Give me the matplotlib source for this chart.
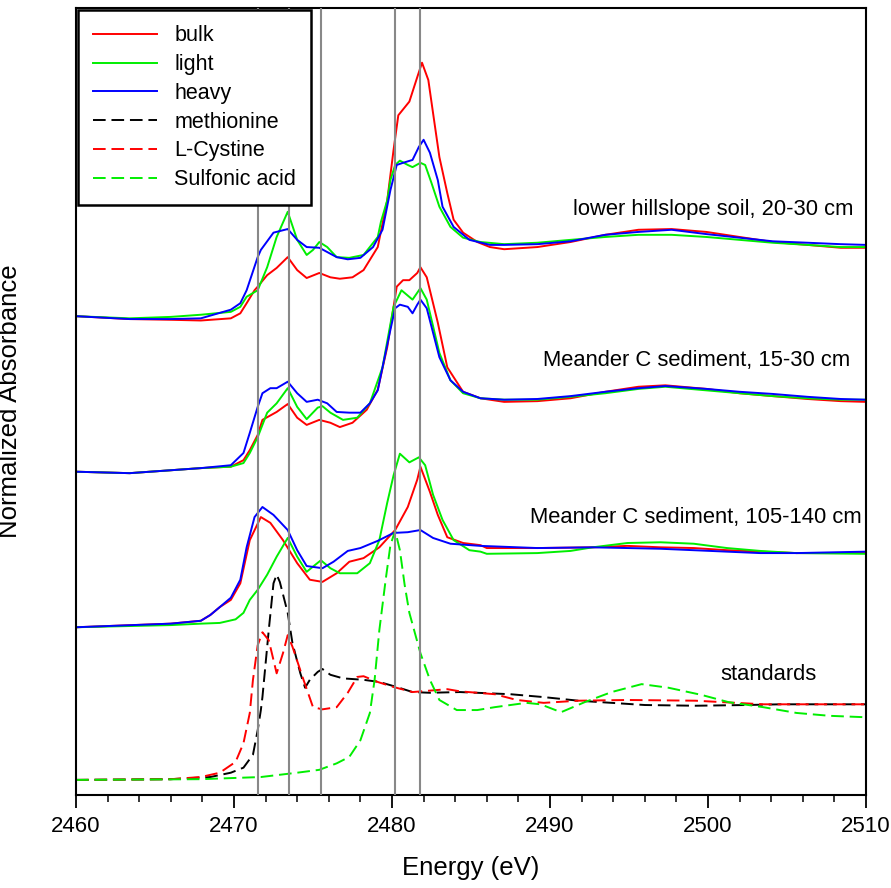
import matplotlib
matplotlib.use("Agg")
import matplotlib.pyplot as plt
from matplotlib import font_manager

# S K-edge XANES spectra, stacked (energy in eV, normalized absorbance + offset)
soil_bulk_e = [2460, 2463.4, 2466.0, 2467.9, 2469.8, 2470.4, 2470.8, 2471.3, 2471.5, 2472.1, 2472.7, 2473.4,
               2474.0, 2474.6, 2475.4, 2476.1, 2476.7, 2477.5, 2478.2, 2479.1, 2479.7, 2480.1, 2480.4, 2481.1,
               2481.6, 2481.9, 2482.3, 2482.6, 2483.0, 2483.5, 2483.9, 2484.5, 2485.4, 2486.2, 2487.1, 2489.2,
               2491.3, 2493.5, 2495.6, 2497.7, 2499.9, 2502.0, 2504.1, 2506.3, 2508.4, 2510]
soil_bulk_y = [6.65, 6.61, 6.60, 6.59, 6.62, 6.69, 6.83, 7.01, 7.06, 7.22, 7.32, 7.47,
               7.29, 7.18, 7.25, 7.19, 7.17, 7.19, 7.29, 7.61, 8.26, 8.96, 9.44, 9.63,
               9.97, 10.17, 9.93, 9.47, 8.86, 8.36, 7.99, 7.81, 7.68, 7.61, 7.58, 7.61,
               7.68, 7.78, 7.85, 7.86, 7.82, 7.75, 7.68, 7.64, 7.60, 7.60]

soil_light_e = [2460, 2463.4, 2466.0, 2467.9, 2469.8, 2470.4, 2470.8, 2471.5, 2472.1, 2472.7, 2473.4, 2474.0,
                2474.6, 2475.0, 2475.4, 2475.9, 2476.5, 2477.3, 2478.2, 2479.1, 2479.3, 2479.7, 2479.9, 2480.2,
                2480.5, 2481.0, 2481.3, 2481.8, 2482.1, 2482.5, 2483.0, 2483.7, 2484.5, 2485.6, 2487.1, 2489.2,
                2491.3, 2493.5, 2495.6, 2497.7, 2499.9, 2502.0, 2504.1, 2506.3, 2508.4, 2510]
soil_light_y = [6.65, 6.62, 6.64, 6.67, 6.71, 6.78, 6.92, 7.01, 7.33, 7.75, 8.10, 7.71,
                7.50, 7.57, 7.68, 7.61, 7.47, 7.46, 7.50, 7.75, 7.96, 8.26, 8.54, 8.75,
                8.81, 8.75, 8.72, 8.78, 8.75, 8.50, 8.17, 7.89, 7.74, 7.68, 7.65, 7.67,
                7.71, 7.75, 7.78, 7.78, 7.75, 7.71, 7.67, 7.64, 7.61, 7.61]

soil_heavy_e = [2460, 2463.4, 2466.0, 2467.9, 2469.8, 2470.4, 2470.8, 2471.5, 2471.7, 2472.5, 2473.4, 2474.0,
                2474.6, 2475.4, 2476.5, 2477.2, 2478.0, 2478.8, 2479.4, 2479.9, 2480.3, 2480.7, 2481.3, 2481.7,
                2482.0, 2482.4, 2482.9, 2483.2, 2483.9, 2484.9, 2486.2, 2487.1, 2489.2, 2491.3, 2493.5, 2495.6,
                2497.7, 2499.9, 2502.0, 2504.1, 2506.3, 2508.4, 2510]
soil_heavy_y = [6.65, 6.61, 6.61, 6.62, 6.74, 6.83, 7.01, 7.47, 7.57, 7.81, 7.86, 7.71,
                7.61, 7.60, 7.47, 7.44, 7.46, 7.61, 7.85, 8.40, 8.75, 8.78, 8.82, 9.00,
                9.10, 8.92, 8.54, 8.17, 7.89, 7.71, 7.64, 7.64, 7.65, 7.69, 7.78, 7.82,
                7.85, 7.79, 7.74, 7.69, 7.67, 7.65, 7.64]

sed1_bulk_e = [2460, 2463.4, 2467.9, 2469.8, 2470.6, 2471.0, 2471.5, 2471.8, 2472.7, 2473.4, 2474.0, 2474.6,
               2475.4, 2476.1, 2476.7, 2477.5, 2478.4, 2479.1, 2479.7, 2480.3, 2480.7, 2481.1, 2481.6, 2481.8,
               2482.2, 2482.9, 2483.5, 2484.5, 2485.6, 2487.1, 2489.2, 2491.3, 2493.5, 2495.6, 2497.3, 2499.9,
               2502.0, 2504.1, 2506.3, 2508.4, 2510]
sed1_bulk_y = [4.49, 4.47, 4.54, 4.56, 4.65, 4.79, 5.00, 5.21, 5.32, 5.43, 5.24, 5.14,
               5.21, 5.17, 5.11, 5.17, 5.35, 5.63, 6.22, 7.06, 7.15, 7.15, 7.25, 7.33,
               7.19, 6.56, 5.94, 5.60, 5.51, 5.46, 5.47, 5.51, 5.60, 5.67, 5.69, 5.64,
               5.58, 5.54, 5.50, 5.47, 5.46]

sed1_light_e = [2460, 2463.4, 2467.9, 2469.8, 2470.6, 2471.0, 2471.5, 2472.1, 2472.7, 2473.4, 2474.0, 2474.6,
                2475.3, 2475.6, 2476.1, 2476.9, 2477.8, 2478.6, 2479.4, 2480.1, 2480.6, 2481.3, 2481.8, 2482.2,
                2483.0, 2483.7, 2484.5, 2485.6, 2487.1, 2489.2, 2491.3, 2493.5, 2495.6, 2497.3, 2499.9, 2502.0,
                2504.1, 2506.3, 2508.4, 2510]
sed1_light_y = [4.49, 4.47, 4.54, 4.56, 4.61, 4.75, 4.97, 5.31, 5.44, 5.65, 5.39, 5.22,
                5.38, 5.40, 5.31, 5.21, 5.24, 5.44, 5.94, 6.78, 7.01, 6.88, 7.04, 6.88,
                6.14, 5.76, 5.58, 5.51, 5.49, 5.49, 5.53, 5.58, 5.64, 5.67, 5.62, 5.58,
                5.54, 5.51, 5.49, 5.49]

sed1_heavy_e = [2460, 2463.4, 2467.9, 2469.8, 2470.6, 2471.0, 2471.5, 2471.8, 2472.3, 2472.7, 2473.4, 2474.0,
                2474.6, 2475.3, 2475.9, 2476.5, 2477.3, 2478.0, 2478.6, 2479.1, 2479.4, 2479.9, 2480.2, 2480.5,
                2481.0, 2481.3, 2481.6, 2481.8, 2482.2, 2482.6, 2483.0, 2483.7, 2484.5, 2485.6, 2487.1, 2489.2,
                2491.3, 2493.5, 2495.6, 2497.3, 2499.9, 2502.0, 2504.1, 2506.3, 2508.4, 2510]
sed1_heavy_y = [4.49, 4.47, 4.54, 4.58, 4.75, 5.03, 5.39, 5.58, 5.65, 5.65, 5.74, 5.58,
                5.46, 5.49, 5.44, 5.32, 5.31, 5.31, 5.44, 5.62, 5.94, 6.46, 6.76, 6.81,
                6.78, 6.69, 6.81, 6.88, 6.76, 6.42, 6.08, 5.76, 5.60, 5.51, 5.49, 5.50,
                5.54, 5.60, 5.65, 5.68, 5.64, 5.60, 5.57, 5.53, 5.50, 5.49]

sed2_bulk_e = [2460, 2466.0, 2467.9, 2468.5, 2469.1, 2469.8, 2470.4, 2471.0, 2471.7, 2472.3, 2473.1, 2474.0,
               2474.8, 2475.6, 2476.5, 2477.3, 2478.2, 2479.2, 2480.2, 2481.0, 2481.6, 2481.8, 2482.4, 2482.9,
               2483.5, 2484.5, 2485.6, 2486.0, 2489.2, 2492.7, 2494.9, 2497.0, 2499.1, 2501.2, 2503.3, 2505.6,
               2510]
sed2_bulk_y = [2.33, 2.38, 2.42, 2.50, 2.61, 2.71, 2.94, 3.54, 3.86, 3.78, 3.54, 3.22,
               2.99, 2.96, 3.08, 3.24, 3.29, 3.44, 3.68, 4.00, 4.38, 4.56, 4.21, 3.89,
               3.58, 3.50, 3.47, 3.43, 3.43, 3.44, 3.46, 3.44, 3.43, 3.40, 3.38, 3.36,
               3.36]

sed2_light_e = [2460, 2466.0, 2467.9, 2469.1, 2470.1, 2470.6, 2471.0, 2471.5, 2472.1, 2472.7, 2473.4, 2474.0,
                2474.6, 2475.1, 2475.5, 2476.1, 2476.7, 2477.8, 2478.6, 2479.2, 2479.7, 2480.1, 2480.5, 2481.1,
                2481.7, 2482.1, 2482.6, 2483.2, 2483.9, 2484.9, 2485.6, 2486.0, 2489.2, 2491.3, 2492.7, 2494.9,
                2497.0, 2499.1, 2501.2, 2503.3, 2505.6, 2510]
sed2_light_y = [2.33, 2.36, 2.38, 2.39, 2.44, 2.53, 2.71, 2.85, 3.06, 3.31, 3.57, 3.31,
                3.10, 3.19, 3.26, 3.15, 3.08, 3.08, 3.22, 3.54, 4.06, 4.44, 4.74, 4.62,
                4.69, 4.58, 4.17, 3.82, 3.54, 3.40, 3.38, 3.35, 3.36, 3.39, 3.44, 3.50,
                3.51, 3.49, 3.43, 3.39, 3.36, 3.35]

sed2_heavy_e = [2460, 2466.0, 2467.9, 2468.5, 2469.1, 2469.8, 2470.4, 2470.8, 2471.3, 2471.8, 2472.5, 2473.4,
                2474.0, 2474.6, 2475.6, 2476.3, 2477.2, 2478.0, 2479.1, 2480.1, 2481.0, 2481.8, 2482.6, 2483.7,
                2485.6, 2489.2, 2492.7, 2494.9, 2497.0, 2499.1, 2501.2, 2503.3, 2505.6, 2510]
sed2_heavy_y = [2.33, 2.38, 2.42, 2.50, 2.61, 2.74, 2.99, 3.44, 3.86, 4.00, 3.89, 3.68,
                3.40, 3.18, 3.15, 3.24, 3.39, 3.43, 3.53, 3.64, 3.65, 3.68, 3.57, 3.49,
                3.46, 3.43, 3.44, 3.43, 3.42, 3.40, 3.38, 3.36, 3.36, 3.38]

# reference standards
meth_e = [2460, 2466.0, 2468.5, 2469.8, 2470.6, 2471.2, 2471.5, 2471.7, 2471.8, 2472.2, 2472.5, 2472.7,
          2472.9, 2473.4, 2473.7, 2474.2, 2474.5, 2474.8, 2475.3, 2475.6, 2476.1, 2476.9, 2478.2, 2479.2,
          2480.3, 2481.3, 2482.4, 2484.3, 2487.5, 2489.6, 2491.8, 2493.9, 2496.0, 2499.2, 2502.4, 2504.6,
          2510]
meth_y = [0.21, 0.22, 0.25, 0.31, 0.38, 0.56, 0.90, 1.18, 1.36, 2.29, 2.94, 3.06,
          2.96, 2.53, 2.11, 1.69, 1.49, 1.60, 1.71, 1.75, 1.67, 1.62, 1.60, 1.57,
          1.50, 1.43, 1.42, 1.43, 1.40, 1.36, 1.31, 1.28, 1.25, 1.24, 1.25, 1.26,
          1.26]

cys_e = [2460, 2466.0, 2467.9, 2469.1, 2470.1, 2470.6, 2471.0, 2471.2, 2471.5, 2471.8, 2472.2, 2472.7,
         2473.1, 2473.4, 2473.7, 2474.4, 2475.0, 2475.6, 2476.5, 2477.2, 2477.8, 2478.2, 2479.1, 2480.1,
         2481.3, 2483.5, 2484.3, 2486.5, 2487.9, 2489.6, 2491.8, 2494.9, 2499.2, 2503.5, 2510]
cys_y = [0.21, 0.22, 0.25, 0.31, 0.46, 0.72, 1.14, 1.60, 2.08, 2.26, 2.15, 1.69,
         1.97, 2.22, 2.06, 1.60, 1.22, 1.19, 1.22, 1.42, 1.64, 1.65, 1.57, 1.50,
         1.43, 1.47, 1.44, 1.40, 1.32, 1.28, 1.31, 1.32, 1.31, 1.26, 1.26]

sulf_e = [2460, 2467.9, 2471.7, 2474.0, 2475.4, 2476.5, 2477.3, 2478.0, 2478.6, 2478.9, 2479.2, 2479.6,
          2479.9, 2480.2, 2480.5, 2480.8, 2481.1, 2481.8, 2482.4, 2483.0, 2484.1, 2485.4, 2486.5, 2488.5,
          2489.4, 2490.7, 2492.2, 2493.9, 2495.8, 2497.5, 2499.6, 2501.3, 2503.5, 2505.6, 2507.7, 2510]
sulf_y = [0.21, 0.22, 0.25, 0.31, 0.35, 0.44, 0.53, 0.76, 1.14, 1.60, 2.29, 2.99,
          3.47, 3.67, 3.40, 2.92, 2.53, 1.97, 1.60, 1.32, 1.18, 1.18, 1.22, 1.28,
          1.26, 1.15, 1.29, 1.43, 1.54, 1.49, 1.39, 1.29, 1.22, 1.14, 1.10, 1.08]

# reference energies marked by grey lines
peak_lines = [2471.5, 2473.5, 2475.5, 2480.2, 2481.8]

sample_labels = ["lower hillslope soil, 20-30 cm", "Meander C sediment, 15-30 cm",
                 "Meander C sediment, 105-140 cm", "standards"]

names = [f.name for f in font_manager.fontManager.ttflist]
base_font = "Liberation Sans" if "Liberation Sans" in names else "DejaVu Sans"
plt.rcParams["font.family"] = base_font

RED, GREEN, BLUE = "#ff0000", "#00ee00", "#0000ff"
dash = (0, (6.5, 3))
lw = 1.4

fig = plt.figure(figsize=(8.91, 8.88), dpi=100)
ax = fig.add_axes([0.0853, 0.1047, 0.8866, 0.8863])

for x in peak_lines:
    ax.axvline(x, color="#888888", lw=1.5, zorder=3)

ax.plot(soil_bulk_e, soil_bulk_y, color=RED, lw=lw, label="bulk")
ax.plot(soil_light_e, soil_light_y, color=GREEN, lw=lw, label="light")
ax.plot(soil_heavy_e, soil_heavy_y, color=BLUE, lw=lw, label="heavy")
ax.plot(sed1_bulk_e, sed1_bulk_y, color=RED, lw=lw)
ax.plot(sed1_light_e, sed1_light_y, color=GREEN, lw=lw)
ax.plot(sed1_heavy_e, sed1_heavy_y, color=BLUE, lw=lw)
ax.plot(sed2_bulk_e, sed2_bulk_y, color=RED, lw=lw)
ax.plot(sed2_light_e, sed2_light_y, color=GREEN, lw=lw)
ax.plot(sed2_heavy_e, sed2_heavy_y, color=BLUE, lw=lw)
ax.plot(meth_e, meth_y, color="black", lw=lw, ls=dash, label="methionine")
ax.plot(cys_e, cys_y, color=RED, lw=lw, ls=dash, label="L-Cystine")
ax.plot(sulf_e, sulf_y, color=GREEN, lw=lw, ls=dash, label="Sulfonic acid")

ax.text(2509.2, 8.13, sample_labels[0], ha="right", va="center", fontsize=15.8)
ax.text(2509.0, 6.03, sample_labels[1], ha="right", va="center", fontsize=15.8)
ax.text(2509.75, 3.85, sample_labels[2], ha="right", va="center", fontsize=15.8)
ax.text(2503.85, 1.67, sample_labels[3], ha="center", va="center", fontsize=15.8)

ax.set_xlim(2460, 2510)
ax.set_ylim(0, 10.93)
ax.set_xticks(range(2460, 2511, 10))
ax.set_xticks(range(2460, 2511, 2), minor=True)
ax.set_yticks([])
ax.tick_params(axis="x", which="major", direction="out", length=9, width=1.3, pad=6, labelsize=16)
ax.tick_params(axis="x", which="minor", direction="out", length=5, width=1.1)
for sp in ax.spines.values():
    sp.set_linewidth(1.5)

ax.set_xlabel("Energy (eV)", fontsize=18.5, labelpad=14)
ax.set_ylabel("Normalized Absorbance", fontsize=18.5)
ax.yaxis.set_label_coords(-0.068, 0.5)

leg = ax.legend(loc="upper left", bbox_to_anchor=(0.002, 0.997), borderaxespad=0, fontsize=15.5,
                frameon=True, fancybox=False, framealpha=1, edgecolor="black",
                handlelength=3.0, handletextpad=0.8, labelspacing=0.36, borderpad=0.7)
leg.get_frame().set_linewidth(1.8)
leg.set_zorder(5)

fig.savefig("out.png", dpi=100)
